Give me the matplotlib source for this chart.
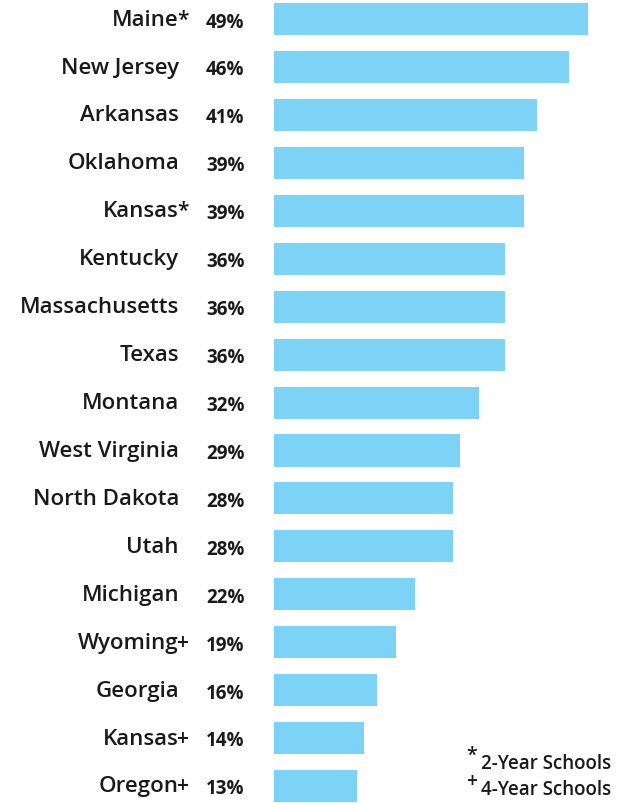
import matplotlib
matplotlib.use("Agg")
import matplotlib.pyplot as plt
from matplotlib.transforms import blended_transform_factory

states = ["Maine*", "New Jersey", "Arkansas", "Oklahoma", "Kansas*", "Kentucky",
          "Massachusetts", "Texas", "Montana", "West Virginia", "North Dakota",
          "Utah", "Michigan", "Wyoming+", "Georgia", "Kansas+", "Oregon+"]
values = [49, 46, 41, 39, 39, 36, 36, 36, 32, 29, 28, 28, 22, 19, 16, 14, 13]
legend_symbols = ["*", "+"]
legend_labels = ["2-Year Schools", "4-Year Schools"]

W, H = 621, 804
fig = plt.figure(figsize=(W / 100, H / 100), dpi=100)
ax = fig.add_axes([274 / W, 0, (588 - 274) / W, 1])

ypos = list(range(len(states)))
ax.barh(ypos, values, height=0.67, color="#7dd3f5")
ax.set_xlim(0, 49)
ax.set_ylim(16.355, -0.42)
ax.axis("off")

tr = blended_transform_factory(fig.transFigure, ax.transData)
font = dict(family="Open Sans", color="#1a1a1a")
for y, s, v in zip(ypos, states, values):
    # the * / + markers hang to the right of the aligned names
    name, mark = (s[:-1], s[-1]) if s[-1] in "*+" else (s, "")
    ax.text(179 / W, y, name, transform=tr, ha="right", va="center",
            fontsize=16, fontweight="semibold", **font)
    if mark:
        ax.text(177.5 / W, y, mark, transform=tr, ha="left", va="center",
                fontsize=15, fontweight="semibold", **font)
    ax.text(206 / W, y + 0.05, f"{v}%", transform=tr, ha="left", va="center",
            fontsize=13.5, fontweight="bold", **font)

for i, (sym, lab) in enumerate(zip(legend_symbols, legend_labels)):
    yb = 764 + i * 26
    fig.text(466 / W, 1 - (yb - 8) / H, sym, ha="left", va="center",
             fontsize=14, fontweight="semibold", **font)
    fig.text(481 / W, 1 - yb / H, lab, ha="left", va="center",
             fontsize=13.5, fontweight="semibold", **font)

fig.savefig("out.png", dpi=100, facecolor="white")
